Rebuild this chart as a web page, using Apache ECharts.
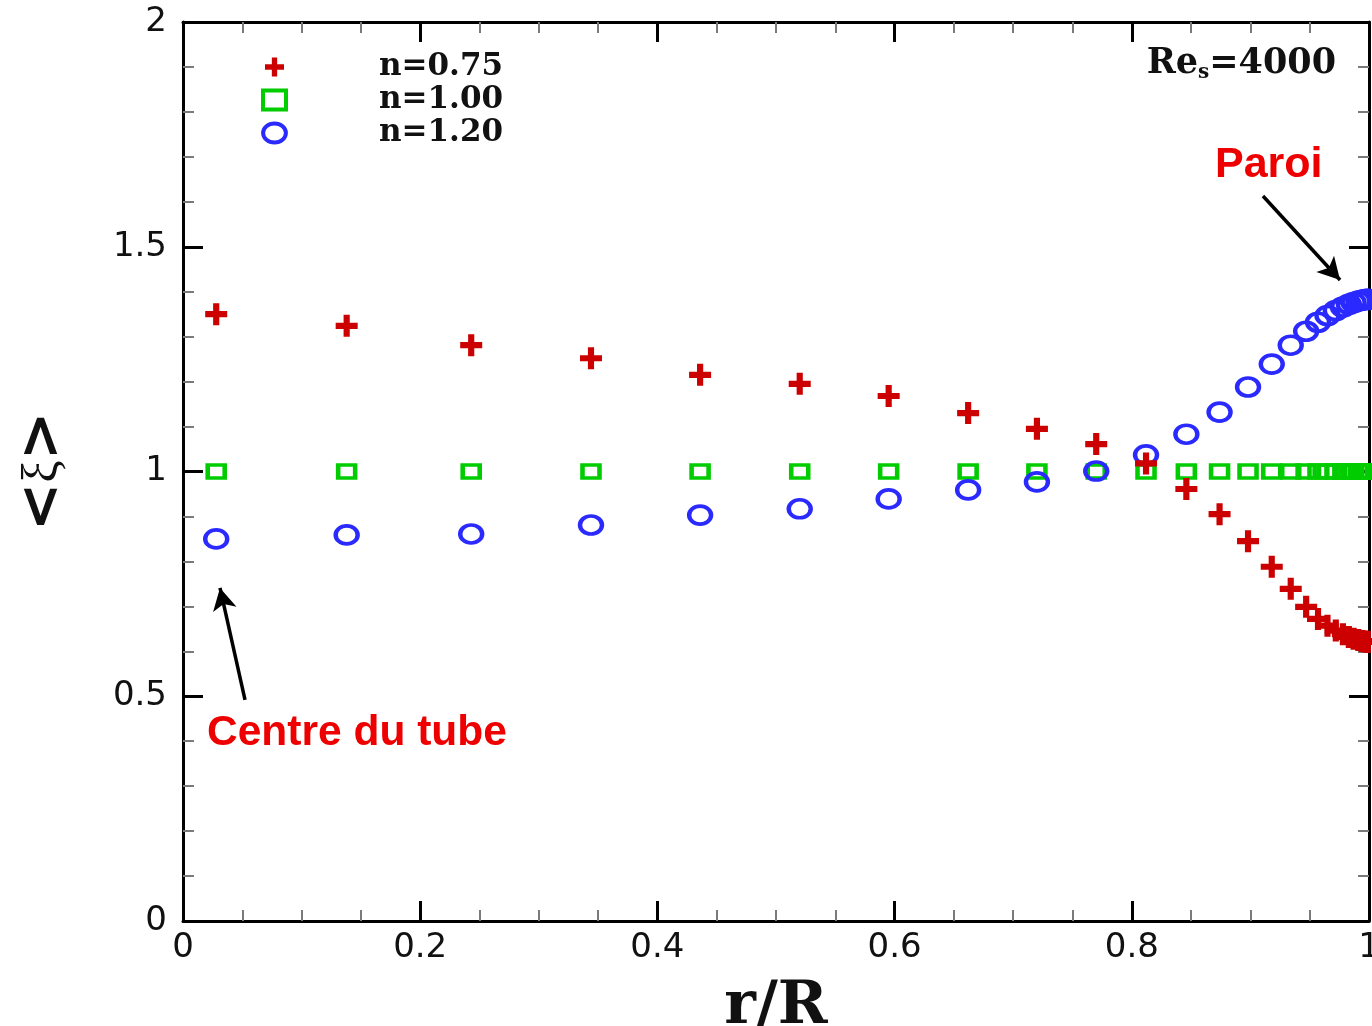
<!DOCTYPE html>
<html>
<head>
<meta charset="utf-8">
<script src="https://cdn.jsdelivr.net/npm/echarts@6/dist/echarts.min.js"></script>
<style>html,body{margin:0;padding:0;background:#fff}#c{width:1372px;height:1026px}</style>
</head>
<body>
<div id="c"></div>
<script>
// r/R positions (shared by all series)
const rR = [0.028, 0.138, 0.243, 0.344, 0.436, 0.520, 0.595, 0.662, 0.720, 0.770, 0.812, 0.846, 0.874, 0.898, 0.918, 0.934, 0.947, 0.957, 0.965, 0.972, 0.978, 0.983, 0.987, 0.991, 0.994, 0.996, 0.998, 0.999];
const xi075 = [1.350, 1.324, 1.281, 1.252, 1.215, 1.195, 1.168, 1.130, 1.095, 1.061, 1.018, 0.961, 0.905, 0.845, 0.788, 0.739, 0.699, 0.672, 0.657, 0.646, 0.638, 0.632, 0.628, 0.625, 0.623, 0.622, 0.621, 0.621];
const xi100 = [1, 1, 1, 1, 1, 1, 1, 1, 1, 1, 1, 1, 1, 1, 1, 1, 1, 1, 1, 1, 1, 1, 1, 1, 1, 1, 1, 1];
const xi120 = [0.850, 0.859, 0.861, 0.881, 0.903, 0.917, 0.939, 0.959, 0.977, 1.001, 1.037, 1.083, 1.132, 1.188, 1.239, 1.281, 1.312, 1.332, 1.347, 1.358, 1.366, 1.372, 1.376, 1.379, 1.381, 1.382, 1.383, 1.383];
const seriesNames = ['n=0.75', 'n=1.00', 'n=1.20'];
const xTicks = ['0', '0.2', '0.4', '0.6', '0.8', '1'];
const yTicks = ['0', '0.5', '1', '1.5', '2'];
// annotation arrows (data coords)
const arrowParoi = [[0.9106, 1.613], [0.9756, 1.426]];
const arrowCentre = [[0.0523, 0.492], [0.0312, 0.741]];

const pts = (ys) => rR.map((x, i) => [x, ys[i]]);
const chart = echarts.init(document.getElementById('c'));

const axisLine = { show: true, onZero: false, lineStyle: { color: '#000', width: 3 } };
const tickMajor = { show: true, inside: true, length: 20, lineStyle: { color: '#000', width: 3 } };
const baseX = {
  type: 'value', min: 0, max: 1, interval: 0.2,
  axisLine: axisLine, axisTick: tickMajor,
  minorTick: { show: true, splitNumber: 4, length: 11, lineStyle: { color: '#7a7a7a', width: 2 } },
  splitLine: { show: false }, minorSplitLine: { show: false }
};
const baseY = {
  type: 'value', min: 0, max: 2, interval: 0.5,
  axisLine: axisLine, axisTick: tickMajor,
  minorTick: { show: true, splitNumber: 5, length: 11, lineStyle: { color: '#7a7a7a', width: 2 } },
  splitLine: { show: false }, minorSplitLine: { show: false }
};
const plusPath = 'path://M0,3.6H3.6V0H6.4V3.6H10V6.4H6.4V10H3.6V6.4H0Z';
const ellPath = 'path://M0,10A12,10 0 1,0 24,10A12,10 0 1,0 0,10Z';

const redStyle = { color: '#cc0000', opacity: 1 };
const greenStyle = { color: 'rgba(0,0,0,0)', borderColor: '#00cc00', borderWidth: 4, opacity: 1 };
const blueStyle = { color: 'rgba(0,0,0,0)', borderColor: '#2a2aff', borderWidth: 4, opacity: 1 };

chart.setOption({
  animation: false,
  backgroundColor: '#fff',
  grid: { left: 183, right: 3, top: 22, bottom: 105, containLabel: false, outerBoundsMode: 'none' },
  xAxis: [
    Object.assign({}, baseX, {
      position: 'bottom',
      axisLabel: { fontSize: 34, color: '#111', margin: 10, fontFamily: 'DejaVu Sans',
        formatter: (v) => xTicks[Math.round(v / 0.2)] },
      name: 'r/R', nameLocation: 'middle', nameGap: 56,
      nameTextStyle: { fontFamily: 'DejaVu Serif', fontWeight: 'bold', fontSize: 60, color: '#111' }
    }),
    Object.assign({}, baseX, { position: 'top', axisLabel: { show: false } })
  ],
  yAxis: [
    Object.assign({}, baseY, {
      position: 'left',
      axisLabel: { fontSize: 34, color: '#111', margin: 16, fontFamily: 'DejaVu Sans',
        formatter: (v) => yTicks[Math.round(v / 0.5)] },
      name: '{a|<}{b|ξ}{a|>}', nameLocation: 'middle', nameGap: 110, nameRotate: 90,
      nameTextStyle: { rich: {
        a: { fontFamily: 'DejaVu Sans', fontWeight: 'bold', fontSize: 58, color: '#111' },
        b: { fontFamily: 'Liberation Serif', fontSize: 50, color: '#111' }
      } }
    }),
    Object.assign({}, baseY, { position: 'right', axisLabel: { show: false } })
  ],
  legend: {
    orient: 'vertical', left: 261, top: 51, padding: 0, itemWidth: 23, itemHeight: 19, itemGap: 1,
    data: [
      { name: seriesNames[0], itemStyle: redStyle },
      { name: seriesNames[1], itemStyle: greenStyle },
      { name: seriesNames[2], itemStyle: blueStyle }
    ],
    textStyle: { fontFamily: 'DejaVu Serif', fontWeight: 'bold', fontSize: 31, lineHeight: 32, color: '#111', padding: [0, 0, 0, 88] }
  },
  series: [
    {
      name: seriesNames[0], type: 'scatter', data: pts(xi075), z: 3,
      symbol: plusPath, symbolSize: [22, 22],
      itemStyle: redStyle
    },
    {
      name: seriesNames[1], type: 'scatter', data: pts(xi100), z: 2,
      symbol: 'rect', symbolSize: [17, 13],
      itemStyle: greenStyle
    },
    {
      name: seriesNames[2], type: 'scatter', data: pts(xi120), z: 2,
      symbol: ellPath, symbolSize: [22, 18],
      itemStyle: blueStyle,
      markLine: {
        silent: true, symbol: ['none', 'arrow'], symbolSize: [18, 22],
        lineStyle: { color: '#000', width: 3.5, type: 'solid' },
        label: { show: false },
        data: [
          [{ coord: arrowParoi[0] }, { coord: arrowParoi[1] }],
          [{ coord: arrowCentre[0] }, { coord: arrowCentre[1] }]
        ]
      }
    }
  ],
  graphic: [
    { type: 'text', right: 36, top: 46, z: 10,
      style: { text: '{b|Re}{s|s}{b|=4000}', rich: {
        b: { fontFamily: 'DejaVu Serif', fontWeight: 'bold', fontSize: 35, fill: '#111' },
        s: { fontFamily: 'DejaVu Serif', fontWeight: 'bold', fontSize: 20, fill: '#111', padding: [18, 0, 0, 0] }
      } } },
    { type: 'text', left: 1215, top: 144, z: 10,
      style: { text: 'Paroi', fontFamily: 'Liberation Sans', fontWeight: 'bold', fontSize: 43, fill: '#ee0000' } },
    { type: 'text', left: 207, top: 712, z: 10,
      style: { text: 'Centre du tube', fontFamily: 'Liberation Sans', fontWeight: 'bold', fontSize: 42.5, fill: '#ee0000' } }
  ]
});
</script>
</body>
</html>
